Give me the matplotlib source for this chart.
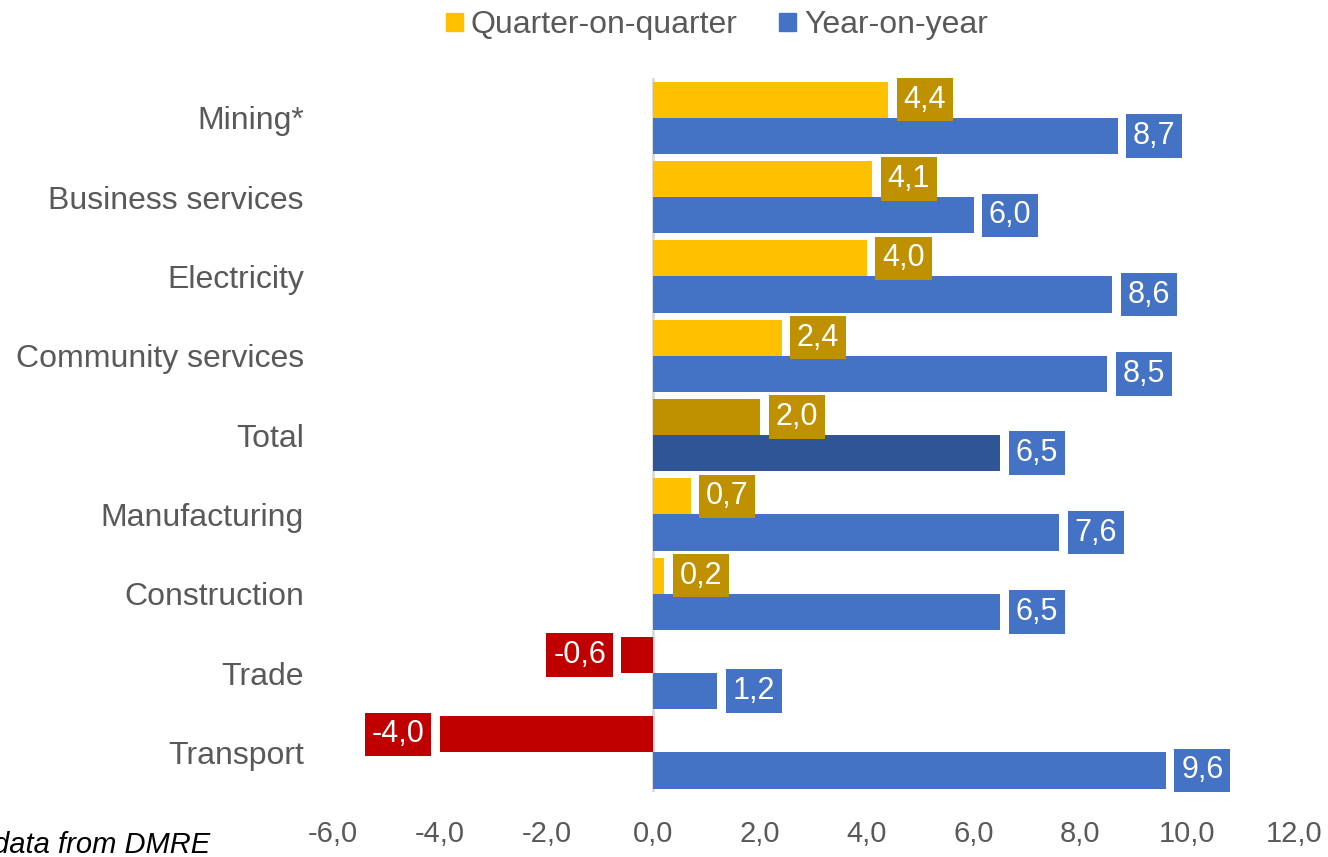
import numpy as np
import matplotlib
matplotlib.use("Agg")
import matplotlib.pyplot as plt
from matplotlib.patches import Patch

plt.rcParams["font.family"] = ["Liberation Sans", "DejaVu Sans"]

# data, top to bottom
categories = ["Mining*", "Business services", "Electricity", "Community services",
              "Total", "Manufacturing", "Construction", "Trade", "Transport"]
qoq = [4.4, 4.1, 4.0, 2.4, 2.0, 0.7, 0.2, -0.6, -4.0]
yoy = [8.7, 6.0, 8.6, 8.5, 6.5, 7.6, 6.5, 1.2, 9.6]
x_ticks = [-6, -4, -2, 0, 2, 4, 6, 8, 10, 12]

YELLOW = "#FFC000"
GOLD = "#BF9000"
BLUE = "#4472C4"
DARKBLUE = "#2F5597"
RED = "#C00000"
GREY = "#595959"


def fmt(v):
    return f"{v:.1f}".replace(".", ",")


fig = plt.figure(figsize=(13.28, 8.57), dpi=100)
ax = fig.add_axes([0.2508, 0.0758, 0.7236, 0.833])

y = np.arange(len(categories))
h = 0.455
off = 0.228

qoq_colors = []
for c, v in zip(categories, qoq):
    if c == "Total":
        qoq_colors.append(GOLD)
    elif v < 0:
        qoq_colors.append(RED)
    else:
        qoq_colors.append(YELLOW)
yoy_colors = [DARKBLUE if c == "Total" else BLUE for c in categories]

ax.barh(y - off, qoq, height=h, color=qoq_colors, edgecolor="none")
ax.barh(y + off, yoy, height=h, color=yoy_colors, edgecolor="none")

# data labels in coloured boxes
for yi, v in zip(y, qoq):
    box = RED if v < 0 else GOLD
    ax.annotate(fmt(v), xy=(v, yi - off), xytext=(11 if v >= 0 else -11, 0),
                textcoords="offset points", ha="left" if v >= 0 else "right",
                va="center", fontsize=22, color="white",
                bbox=dict(boxstyle="square,pad=0.22", fc=box, ec="none"))
for yi, v in zip(y, yoy):
    ax.annotate(fmt(v), xy=(v, yi + off), xytext=(11, 0),
                textcoords="offset points", ha="left", va="center",
                fontsize=22, color="white",
                bbox=dict(boxstyle="square,pad=0.22", fc=BLUE, ec="none"))

ax.axvline(0, color="#D9D9D9", lw=2, zorder=0)

ax.set_xlim(-6, 12)
ax.set_ylim(len(categories) - 0.5, -0.5)
ax.set_xticks(x_ticks)
ax.set_xticklabels([fmt(t) for t in x_ticks], fontsize=21, color=GREY)
ax.set_yticks(y)
ax.set_yticklabels(categories, fontsize=23, color=GREY)
ax.tick_params(axis="y", length=0, pad=21)
ax.tick_params(axis="x", length=0, pad=20)
for s in ax.spines.values():
    s.set_visible(False)

handles = [Patch(color=YELLOW, label="Quarter-on-quarter"),
           Patch(color=BLUE, label="Year-on-year")]
leg = fig.legend(handles=handles, loc="center", bbox_to_anchor=(0.540, 0.9705),
                 ncol=2, frameon=False, fontsize=23, handlelength=0.53,
                 handleheight=0.53, handletextpad=0.25, columnspacing=1.3)
for t in leg.get_texts():
    t.set_color(GREY)

# footnote, cut at the left edge as in the source picture
fig.text(210 / 1328, 1 - 845 / 857, "*Source data from DMRE",
         ha="right", va="center", fontsize=21, style="italic", color="black")

fig.savefig("out.png", dpi=100)
